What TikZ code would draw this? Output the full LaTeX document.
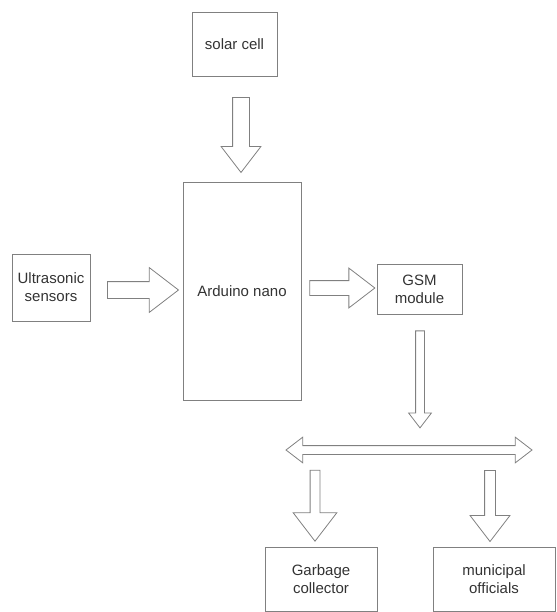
\documentclass[tikz,border=0pt]{standalone}
\usepackage{fontspec}
\setmainfont{Liberation Sans}
\usetikzlibrary{shapes.arrows}

\begin{document}
\begin{tikzpicture}[x=1pt,y=-1pt,line width=.8pt,
  block/.style={rectangle,draw=black!50,inner sep=0pt,align=center,
    text=black!80,font=\fontsize{15}{18}\selectfont},
  fatarrow/.style={single arrow,draw=black!50,minimum width=0pt,
    single arrow tip angle=75},
  twoway/.style={double arrow,draw=black!50,minimum width=0pt,
    double arrow tip angle=75}]
\useasboundingbox (0,0) rectangle (556,612);
%Blocks
\node at (234.5,44) [block,minimum width=85,minimum height=64] (Solar) {solar cell};
\node at (242,291) [block,minimum width=118,minimum height=218] (Nano) {Arduino nano};
\node at (51,287.5) [block,minimum width=78,minimum height=67] (Sensor) {Ultrasonic\\sensors};
\node at (419.5,289) [block,minimum width=85,minimum height=50] (Gsm) {GSM\\module};
\node at (321,579) [block,minimum width=112,minimum height=64] (Collector) {Garbage\\collector};
\node at (494,579) [block,minimum width=122,minimum height=64] (Officials) {municipal\\officials};

%Block arrows
\node at (241,129.5) [fatarrow,rotate=-90,minimum height=75,inner sep=8,single arrow head extend=11.5] (SolarIn) {};
\node at (137.5,290) [fatarrow,minimum height=71,inner sep=8,single arrow head extend=14] (SensorIn) {};
\node at (337.5,288) [fatarrow,minimum height=65,inner sep=7,single arrow head extend=12.5] (GsmIn) {};
\node at (420,376.5) [fatarrow,rotate=-90,minimum height=97,inner sep=4,single arrow head extend=7] (GsmOut) {};
\node at (409,450) [twoway,minimum height=246,inner sep=4,double arrow head extend=8.5] (Split) {};
\node at (315,502.5) [fatarrow,rotate=-90,minimum height=71,inner sep=4.5,single arrow head extend=17] (CollectorIn) {};
\node at (490,502.5) [fatarrow,rotate=-90,minimum height=71,inner sep=5,single arrow head extend=14.5] (OfficialsIn) {};
\end{tikzpicture}
\end{document}
